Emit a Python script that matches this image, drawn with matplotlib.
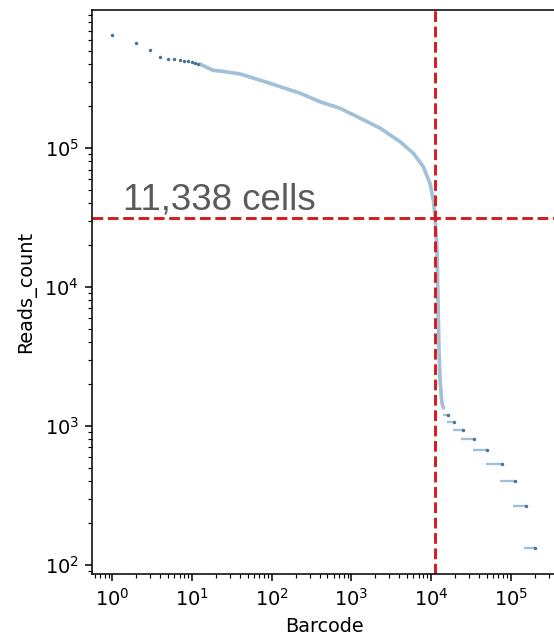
import numpy as np
import matplotlib
matplotlib.use("Agg")
import matplotlib.pyplot as plt

# head of the knee plot (sparse barcodes)
head_rank = [1, 2, 3, 4, 5, 6, 7, 8, 9, 10, 11, 12]
head_reads = [650000, 572000, 507000, 449000, 436000, 434000, 430000, 425000, 420000, 415000, 410000, 402000]

# dense part of the curve
curve_rank = [12.6, 15.3, 18.4, 22.5, 40, 95, 226, 404, 719, 1283, 2285, 4074,
              5984, 7980, 9680, 10660, 11200, 11860, 12200, 12560, 12940, 13600, 14230]
curve_reads = [402000, 380000, 362000, 358000, 341000, 292000, 248000, 215000, 193000,
               164000, 139000, 111000, 91600, 73300, 55700, 42300, 32000, 18500,
               8050, 3520, 2140, 1490, 1347]

# tail: quantized read counts and the rank span each one covers
tail_reads = [1201, 1068, 934, 801, 667, 534, 400, 267, 133]
tail_start = [14100, 15800, 18700, 23700, 33300, 48900, 73000, 107400, 147600]
tail_end = [16300, 19400, 24900, 34500, 50700, 77000, 113000, 155000, 201000]

n_cells = 11338
threshold = 31200

fig = plt.figure(figsize=(554 / 139, 639 / 139), dpi=139)
ax = fig.add_axes([0.1666, 0.1017, 0.837, 0.8827])

ax.plot(curve_rank, curve_reads, color="#a3c0d9", lw=1.9, solid_capstyle="round")
ax.plot(head_rank, head_reads, ".", color="#4a7497", ms=1.6)
ax.hlines(tail_reads, tail_start, tail_end, color="#a3c0d9", lw=1.2)
ax.plot(tail_end, tail_reads, ".", color="#4a7497", ms=1.6)

ax.axvline(n_cells, color="#d7191c", ls="--", lw=1.5)
ax.axhline(threshold, color="#d7191c", ls="--", lw=1.5)

ax.set_xscale("log")
ax.set_yscale("log")
ax.set_xlim(0.561, 3.69e5)
ax.set_ylim(86, 9.84e5)

ax.text(1.36, 35800, "{:,} cells".format(n_cells), fontsize=19, color="#5a5a5a",
        family="Liberation Sans", ha="left", va="baseline")

ax.set_xlabel("Barcode")
ax.set_ylabel("Reads_count")

fig.savefig("out.png", dpi=139)
